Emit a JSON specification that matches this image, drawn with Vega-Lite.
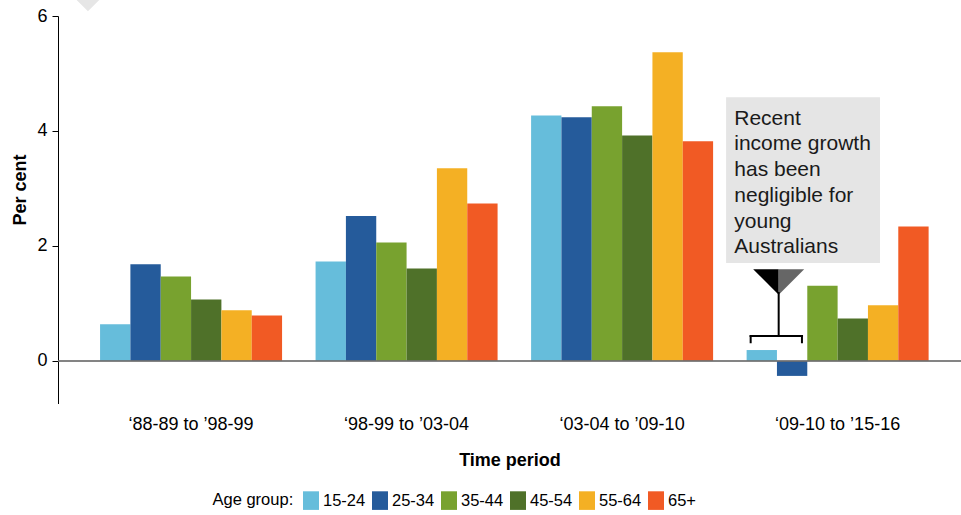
{
  "$schema": "https://vega.github.io/schema/vega-lite/v6.json",
  "width": 903,
  "height": 387.5,
  "autosize": {"type": "none"},
  "padding": {"left": 58, "top": 16, "right": 0, "bottom": 111.5},
  "background": "#ffffff",
  "config": {
    "font": "Liberation Sans",
    "view": {"stroke": null},
    "axis": {"grid": false}
  },
  "datasets": {
    "growth": [
      {"period": "‘88-89 to ’98-99", "age": "15-24", "value": 0.64},
      {"period": "‘88-89 to ’98-99", "age": "25-34", "value": 1.68},
      {"period": "‘88-89 to ’98-99", "age": "35-44", "value": 1.47},
      {"period": "‘88-89 to ’98-99", "age": "45-54", "value": 1.07},
      {"period": "‘88-89 to ’98-99", "age": "55-64", "value": 0.88},
      {"period": "‘88-89 to ’98-99", "age": "65+", "value": 0.79},
      {"period": "‘98-99 to ’03-04", "age": "15-24", "value": 1.73},
      {"period": "‘98-99 to ’03-04", "age": "25-34", "value": 2.52},
      {"period": "‘98-99 to ’03-04", "age": "35-44", "value": 2.06},
      {"period": "‘98-99 to ’03-04", "age": "45-54", "value": 1.61},
      {"period": "‘98-99 to ’03-04", "age": "55-64", "value": 3.35},
      {"period": "‘98-99 to ’03-04", "age": "65+", "value": 2.74},
      {"period": "‘03-04 to ’09-10", "age": "15-24", "value": 4.27},
      {"period": "‘03-04 to ’09-10", "age": "25-34", "value": 4.24},
      {"period": "‘03-04 to ’09-10", "age": "35-44", "value": 4.43},
      {"period": "‘03-04 to ’09-10", "age": "45-54", "value": 3.92},
      {"period": "‘03-04 to ’09-10", "age": "55-64", "value": 5.37},
      {"period": "‘03-04 to ’09-10", "age": "65+", "value": 3.82},
      {"period": "‘09-10 to ’15-16", "age": "15-24", "value": 0.19},
      {"period": "‘09-10 to ’15-16", "age": "25-34", "value": -0.26},
      {"period": "‘09-10 to ’15-16", "age": "35-44", "value": 1.31},
      {"period": "‘09-10 to ’15-16", "age": "45-54", "value": 0.74},
      {"period": "‘09-10 to ’15-16", "age": "55-64", "value": 0.97},
      {"period": "‘09-10 to ’15-16", "age": "65+", "value": 2.34}
    ]
  },
  "layer": [
    {
      "data": {"name": "growth"},
      "mark": {"type": "bar"},
      "encoding": {
        "x": {
          "field": "period", "type": "nominal", "sort": null,
          "scale": {"paddingInner": 0.1555, "paddingOuter": 0.1727, "align": 0.565},
          "axis": {
            "title": "Time period", "labelAngle": 0, "domain": false, "ticks": false, "tickSize": 0,
            "labelFontSize": 18, "labelColor": "#000000", "labelPadding": 12,
            "titleFontSize": 18, "titleFontWeight": "bold", "titleColor": "#000000", "titlePadding": 18
          }
        },
        "xOffset": {
          "field": "age", "type": "nominal", "sort": null,
          "scale": {"paddingInner": 0, "paddingOuter": 0}
        },
        "y": {
          "field": "value", "type": "quantitative",
          "scale": {"domain": [-0.74, 6], "nice": false, "zero": false},
          "axis": {
            "values": [0, 2, 4, 6], "title": "Per cent",
            "domainColor": "#000000", "domainWidth": 1, "tickColor": "#000000", "tickSize": 6,
            "labelFontSize": 18, "labelColor": "#000000", "labelPadding": 5,
            "titleFontSize": 18, "titleFontWeight": "bold", "titleColor": "#000000",
            "titleX": -33, "titleY": 173.5, "titleAlign": "center", "titleBaseline": "alphabetic", "titleAngle": -90
          }
        },
        "color": {
          "field": "age", "type": "nominal", "sort": null,
          "scale": {
            "domain": ["15-24", "25-34", "35-44", "45-54", "55-64", "65+"],
            "range": ["#66bddb", "#255b9b", "#78a22f", "#4f7129", "#f4b024", "#f15a24"]
          },
          "legend": {
            "orient": "none", "legendX": 154.5, "legendY": 475, "direction": "horizontal",
            "title": "Age group:", "titleOrient": "left", "titleFontSize": 16.5, "titleFontWeight": "normal",
            "titleColor": "#000000", "titlePadding": 8,
            "labelFontSize": 16.5, "labelColor": "#000000", "labelOffset": 2.5,
            "symbolType": "M-0.86,-1L0.86,-1L0.86,1L-0.86,1Z", "symbolSize": 346, "symbolStrokeWidth": 0, "symbolOpacity": 1,
            "columnPadding": 5
          }
        }
      }
    },
    {
      "data": {"values": [{}]},
      "mark": {"type": "rule", "color": "#6e6e6e", "strokeWidth": 2, "opacity": 0.85},
      "encoding": {
        "y": {"datum": 0, "type": "quantitative", "scale": {"domain": [-0.74, 6], "nice": false, "zero": false}, "axis": null}
      }
    },
    {
      "data": {"values": [{}]},
      "mark": {"type": "rect", "color": "#e5e5e5"},
      "encoding": {
        "x": {"datum": 2.483, "type": "quantitative", "scale": {"domain": [-0.617, 3.573], "nice": false, "zero": false}, "axis": null},
        "x2": {"datum": 3.197},
        "y": {"datum": 4.586, "type": "quantitative", "scale": {"domain": [-0.74, 6], "nice": false, "zero": false}, "axis": null},
        "y2": {"datum": 1.704}
      }
    },
    {
      "data": {"values": [{}]},
      "mark": {"type": "text", "align": "left", "baseline": "alphabetic", "fontSize": 21, "lineHeight": 25.7, "color": "#1a1a1a"},
      "encoding": {
        "x": {"datum": 2.521, "type": "quantitative", "scale": {"domain": [-0.617, 3.573], "nice": false, "zero": false}, "axis": null},
        "y": {"datum": 4.108, "type": "quantitative", "scale": {"domain": [-0.74, 6], "nice": false, "zero": false}, "axis": null},
        "text": {"value": ["Recent", "income growth", "has been", "negligible for", "young", "Australians"]}
      }
    },
    {
      "data": {"values": [{}]},
      "mark": {"type": "point", "shape": "M-1,0L0,0L0,1Z", "filled": true, "color": "#000000", "opacity": 1, "size": 2601, "strokeWidth": 0},
      "encoding": {
        "x": {"datum": 2.727, "type": "quantitative", "scale": {"domain": [-0.617, 3.573], "nice": false, "zero": false}, "axis": null},
        "y": {"datum": 1.595, "type": "quantitative", "scale": {"domain": [-0.74, 6], "nice": false, "zero": false}, "axis": null}
      }
    },
    {
      "data": {"values": [{}]},
      "mark": {"type": "point", "shape": "M0,0L1,0L0,1Z", "filled": true, "color": "#666666", "opacity": 1, "size": 2601, "strokeWidth": 0},
      "encoding": {
        "x": {"datum": 2.727, "type": "quantitative", "scale": {"domain": [-0.617, 3.573], "nice": false, "zero": false}, "axis": null},
        "y": {"datum": 1.595, "type": "quantitative", "scale": {"domain": [-0.74, 6], "nice": false, "zero": false}, "axis": null}
      }
    },
    {
      "data": {"values": [{}]},
      "mark": {"type": "rule", "color": "#000000", "strokeWidth": 2},
      "encoding": {
        "x": {"datum": 2.727, "type": "quantitative", "scale": {"domain": [-0.617, 3.573], "nice": false, "zero": false}, "axis": null},
        "y": {"datum": 1.2, "type": "quantitative", "scale": {"domain": [-0.74, 6], "nice": false, "zero": false}, "axis": null},
        "y2": {"datum": 0.435}
      }
    },
    {
      "data": {"values": [{}]},
      "mark": {"type": "rule", "color": "#000000", "strokeWidth": 2},
      "encoding": {
        "x": {"datum": 2.592, "type": "quantitative", "scale": {"domain": [-0.617, 3.573], "nice": false, "zero": false}, "axis": null},
        "x2": {"datum": 2.840},
        "y": {"datum": 0.435, "type": "quantitative", "scale": {"domain": [-0.74, 6], "nice": false, "zero": false}, "axis": null}
      }
    },
    {
      "data": {"values": [{}]},
      "mark": {"type": "rule", "color": "#000000", "strokeWidth": 2},
      "encoding": {
        "x": {"datum": 2.597, "type": "quantitative", "scale": {"domain": [-0.617, 3.573], "nice": false, "zero": false}, "axis": null},
        "y": {"datum": 0.445, "type": "quantitative", "scale": {"domain": [-0.74, 6], "nice": false, "zero": false}, "axis": null},
        "y2": {"datum": 0.308}
      }
    },
    {
      "data": {"values": [{}]},
      "mark": {"type": "rule", "color": "#000000", "strokeWidth": 2},
      "encoding": {
        "x": {"datum": 2.835, "type": "quantitative", "scale": {"domain": [-0.617, 3.573], "nice": false, "zero": false}, "axis": null},
        "y": {"datum": 0.445, "type": "quantitative", "scale": {"domain": [-0.74, 6], "nice": false, "zero": false}, "axis": null},
        "y2": {"datum": 0.308}
      }
    },
    {
      "data": {"values": [{}]},
      "mark": {"type": "point", "shape": "M-1,0L1,0L0,1Z", "filled": true, "color": "#e6e6e6", "opacity": 1, "size": 576, "strokeWidth": 0},
      "encoding": {
        "x": {"datum": -0.478, "type": "quantitative", "scale": {"domain": [-0.617, 3.573], "nice": false, "zero": false}, "axis": null},
        "y": {"datum": 6.29, "type": "quantitative", "scale": {"domain": [-0.74, 6], "nice": false, "zero": false}, "axis": null}
      }
    }
  ],
  "resolve": {"scale": {"x": "independent", "y": "independent"}, "axis": {"x": "independent", "y": "independent"}}
}
